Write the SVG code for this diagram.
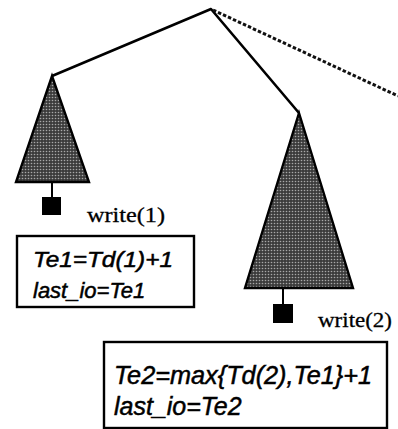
<svg xmlns="http://www.w3.org/2000/svg" width="398" height="429" viewBox="0 0 398 429">
<defs>
<pattern id="dots" width="3" height="3" patternUnits="userSpaceOnUse">
<rect width="3" height="3" fill="#3c3c3c"/>
<circle cx="1.5" cy="1.5" r="0.8" fill="#a8a8a8"/>
</pattern>
</defs>
<style>
.edge{stroke:#000;stroke-width:2.6;fill:none;stroke-linejoin:round}
.dash{stroke:#111;stroke-width:3;fill:none;stroke-dasharray:3.5 2}
.tri{fill:url(#dots);stroke:#000;stroke-width:2.4;stroke-linejoin:miter}
.stem{stroke:#000;stroke-width:2}
.sq{fill:#000}
.box{fill:#fff;stroke:#000;stroke-width:2.4}
.lbl{font-family:"Liberation Serif",serif;font-size:21px;fill:#000;stroke:#000;stroke-width:0.3}
.eq{font-family:"Liberation Sans",Arial,sans-serif;font-style:italic;fill:#000;stroke:#000;stroke-width:0.5}
</style>
<g id="connectors">
<polyline class="edge" points="52,76 211,9 299,113"/>
<line class="dash" x1="213" y1="10" x2="398" y2="96"/>
</g>
<g id="subtree1">
<polygon class="tri" points="52,76 89,182 16,182"/>
<line class="stem" x1="52" y1="182" x2="52" y2="198"/>
<rect class="sq" x="42" y="197" width="19" height="18"/>
<text class="lbl" x="87" y="222" textLength="78" lengthAdjust="spacingAndGlyphs">write(1)</text>
</g>
<g id="box1">
<rect class="box" x="17" y="236" width="177" height="71"/>
<text class="eq" x="33" y="267" font-size="22" textLength="140" lengthAdjust="spacingAndGlyphs">Te1=Td(1)+1</text>
<text class="eq" x="33" y="298" font-size="22">last_io=Te1</text>
</g>
<g id="subtree2">
<polygon class="tri" points="299,113 353,288 245,288"/>
<line class="stem" x1="283" y1="288" x2="283" y2="304"/>
<rect class="sq" x="273" y="304" width="20" height="19"/>
<text class="lbl" x="318" y="327" textLength="74" lengthAdjust="spacingAndGlyphs">write(2)</text>
</g>
<g id="box2">
<rect class="box" x="104" y="342" width="283" height="86"/>
<text class="eq" x="114" y="384" font-size="25" textLength="258" lengthAdjust="spacingAndGlyphs">Te2=max{Td(2),Te1}+1</text>
<text class="eq" x="114" y="415" font-size="25">last_io=Te2</text>
</g>
</svg>
